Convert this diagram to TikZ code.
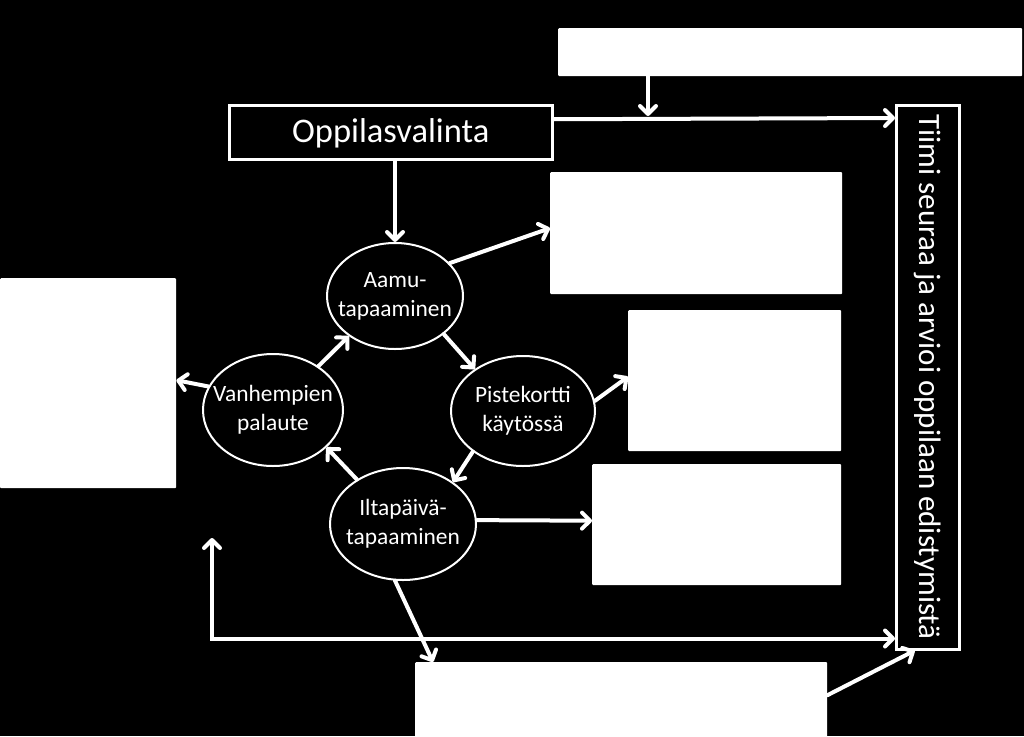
\documentclass[tikz,border=0pt]{standalone}
\usepackage{fontspec}
\setmainfont{Carlito}
\usetikzlibrary{arrows.meta,shapes.geometric}
\begin{document}
\begin{tikzpicture}[x=1pt,y=-1pt,
  whitebox/.style={draw=none,fill=white,rounded corners=1pt,inner sep=0pt,anchor=north west},
  framebox/.style={draw=white,line width=2.5pt,fill=black,text=white,inner sep=0pt,anchor=north west},
  bubble/.style={ellipse,draw=white,line width=2pt,fill=black,inner sep=0pt},
  bubbletext/.style={text=white,inner sep=0pt,font=\fontsize{23.4}{29}\selectfont,align=center},
  tip/.style={},
  conn/.style={draw=white,line width=4pt,line cap=round,
     -{Straight Barb[length=8pt,width=16pt,line cap=round,line join=round]}},
]
\fill[black] (0,0) rectangle (1024,736);
\useasboundingbox (0,0) rectangle (1024,736);

% white boxes
\node[whitebox,minimum width=464pt,minimum height=48pt] (top) at (558,28) {};
\node[whitebox,minimum width=292pt,minimum height=122pt] (box1) at (550,172) {};
\node[whitebox,minimum width=213pt,minimum height=141pt] (box2) at (628,310) {};
\node[whitebox,minimum width=249pt,minimum height=121pt] (box3) at (592,464) {};
\node[whitebox,minimum width=176pt,minimum height=210pt] (leftbox) at (0,278) {};
\node[whitebox,minimum width=412pt,minimum height=80pt] (bottom) at (415,662) {};

% framed boxes
\node[framebox,minimum width=323pt,minimum height=54pt] (opp) at (228,104) {};
\node[text=white,font=\fontsize{34.5}{40}\selectfont] (opptext) at ([yshift=-1pt]opp.center) {Oppilasvalinta};
\node[framebox,minimum width=63pt,minimum height=544pt] (tiimi) at (895,104) {};
\node[text=white,rotate=-90,font=\fontsize{31}{36}\selectfont] (tiimitext) at (tiimi.center) {Tiimi seuraa ja arvioi oppilaan edistymistä};

% ellipses
\node[bubble,minimum width=136pt,minimum height=106pt] (aamu) at (395,296) {};
\node[bubbletext] (aamutext) at (aamu.center) {Aamu-\\tapaaminen};
\node[bubble,minimum width=144pt,minimum height=110pt] (piste) at (523,411) {};
\node[bubbletext] (pistetext) at (piste.center) {Pistekortti\\käytössä};
\node[bubble,minimum width=146pt,minimum height=112pt] (ilta) at (403,524) {};
\node[bubbletext] (iltatext) at (ilta.center) {Iltapäivä-\\tapaaminen};
\node[bubble,minimum width=140pt,minimum height=112pt] (vanh) at (273,410) {};
\node[bubbletext] (vanhtext) at (vanh.center) {Vanhempien\\palaute};

% connectors
\draw[conn] ([yshift=13pt]opp.east) -- ([yshift=-14pt]tiimi.north west);
\coordinate (topin) at (648,116);
\draw[conn] (top.south -| topin) -- (topin);
\draw[conn] (opp.south -| aamu.north) -- (aamu.north);
\draw[conn] (aamu.31) -- ([yshift=5pt]box1.west);
\draw[conn] (aamu.-38) -- (piste.139);
\draw[conn] (piste.8) -- ([yshift=4pt]box2.west);
\draw[conn] (piste.-141) -- (ilta.40);
\draw[conn] (ilta.3) -- ([yshift=4pt]box3.west);
\draw[conn] (ilta.136) -- (vanh.-35);
\draw[conn] (vanh.44) -- (aamu.-139);
\draw[conn] (vanh.160) -- ([yshift=3pt]leftbox.east);
\draw[conn] (ilta.-98) -- ([xshift=18pt]bottom.north west);
\draw[conn] ([yshift=7pt]bottom.east) -- ([xshift=-13pt]tiimi.south);
\coordinate (lup) at (212,538);
\draw[conn,{Straight Barb[length=8pt,width=16pt,line cap=round,line join=round]}-{Straight Barb[length=8pt,width=16pt,line cap=round,line join=round]}]
  (lup) |- ([yshift=12pt]tiimi.south west);
\end{tikzpicture}
\end{document}
